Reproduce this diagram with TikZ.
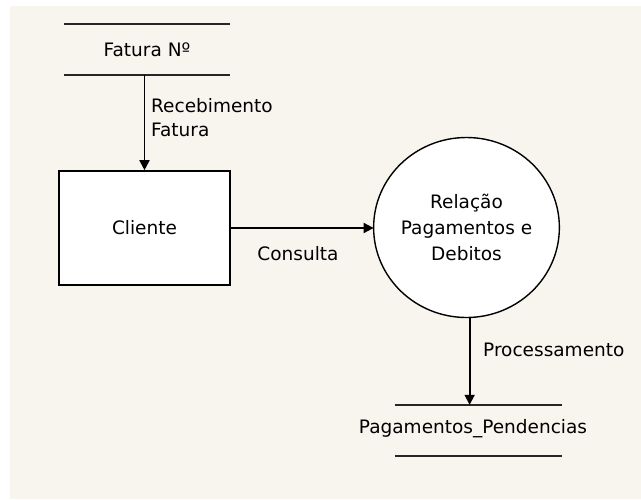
\documentclass[tikz,border=0pt]{standalone}
\usepackage{fontspec}
\setmainfont{DejaVu Sans}
\usetikzlibrary{arrows.meta,shapes.geometric}
\definecolor{paper}{HTML}{F8F5EF}
\tikzset{
  arr/.style={line width=1.8pt,-{Triangle[length=10pt,width=10pt]}},
  storeline/.style={line width=2pt, draw=black!85},
  lbl/.style={inner sep=0pt, font=\fontsize{18.5}{24}\selectfont, align=left},
  entity/.style={draw, line width=1.6pt, fill=white, minimum width=171pt, minimum height=114pt, inner sep=0pt, font=\fontsize{18.5}{24}\selectfont},
  proc/.style={ellipse, draw, line width=1.4pt, fill=white, minimum width=174pt, minimum height=180pt, inner sep=0pt, outer sep=0pt, font=\fontsize{18.5}{26}\selectfont, align=center},
  store/.style={minimum width=166pt, minimum height=51pt, inner sep=0pt}
}
\begin{document}
\begin{tikzpicture}[x=1pt,y=-1pt]
\useasboundingbox (0,0) rectangle (641,499);
\fill[white] (0,0) rectangle (641,499);
\fill[paper] (10,6) rectangle (641,499);
% data store Fatura
\node[store] (fatura) at (147,49.5) {};
\node[lbl] (faturatxt) at (fatura.center) {Fatura Nº};
\draw[storeline] (fatura.north west) -- (fatura.north east);
\draw[storeline] (fatura.south west) -- (fatura.south east);
% entity
\node[entity] (cliente) at (144.5,228) {Cliente};
% process
\node[proc] (circ) at (466.5,227.5) {Relação\\Pagamentos e\\Debitos};
% data store Pagamentos
\node[store, minimum width=167pt] (pag) at (478.5,430.5) {};
\node[lbl] (pagtxt) at (473,429) {Pagamentos\_Pendencias};
\draw[storeline] (pag.north west) -- (pag.north east);
\draw[storeline] (pag.south west) -- (pag.south east);
% connectors
\draw[arr] (cliente.north |- fatura.south) -- (cliente.north);
\draw[arr] (cliente.east) -- (circ.west |- cliente.east);
\draw[arr] (circ.-88) -- (circ.-88 |- pag.north);
% labels
\node[lbl, anchor=west] (lrec) at (151,118) {Recebimento\\Fatura};
\node[lbl] (lcons) at (298,254) {Consulta};
\node[lbl, anchor=west] (lproc) at (483,350) {Processamento};
\end{tikzpicture}
\end{document}
